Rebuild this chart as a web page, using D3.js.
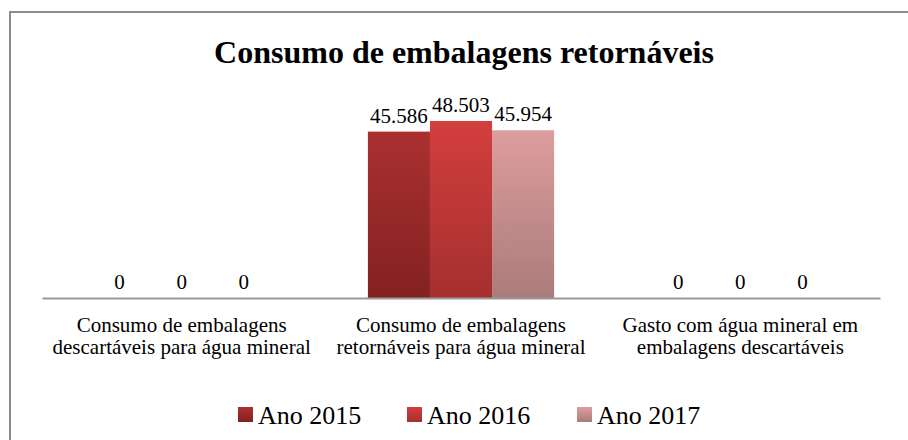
<!DOCTYPE html>
<html>
<head>
<meta charset="utf-8">
<script src="https://cdn.jsdelivr.net/npm/d3@7"></script>
<style>
body { margin: 0; background: #fff; }
svg { display: block; font-family: "Liberation Serif", "Times New Roman", serif; }
</style>
</head>
<body>
<svg id="chart" width="908" height="440"></svg>
<script>
var categories = [
	["Consumo de embalagens", "descartáveis para água mineral"],
	["Consumo de embalagens", "retornáveis para água mineral"],
	["Gasto com água mineral em", "embalagens descartáveis"]
];
var seriesNames = ["Ano 2015", "Ano 2016", "Ano 2017"];
var ano2015 = [0, 45.586, 0];
var ano2016 = [0, 48.503, 0];
var ano2017 = [0, 45.954, 0];
var valueLabels = [["0", "45.586", "0"], ["0", "48.503", "0"], ["0", "45.954", "0"]];

var series = [ano2015, ano2016, ano2017];
var grads = [["#aa3030", "#832121"], ["#d23f3d", "#a52f2f"], ["#dd9d9d", "#ab7b7b"]];

var svg = d3.select("#chart");
var defs = svg.append("defs");
grads.forEach(function (g, i) {
	var lg = defs.append("linearGradient").attr("id", "g" + i).attr("x1", 0).attr("y1", 0).attr("x2", 0).attr("y2", 1);
	lg.append("stop").attr("offset", "0%").attr("stop-color", g[0]);
	lg.append("stop").attr("offset", "100%").attr("stop-color", g[1]);
});

// frame
svg.append("rect").attr("x", 10).attr("y", 12).attr("width", 910).attr("height", 440)
	.attr("fill", "none").attr("stroke", "#8c8c8c").attr("stroke-width", 2);

svg.append("text").attr("x", 464).attr("y", 63).attr("text-anchor", "middle")
	.attr("font-size", 32).attr("font-weight", "bold").text("Consumo de embalagens retornáveis");

var x0 = d3.scaleBand().domain(d3.range(categories.length)).range([42, 880]);
var x1 = d3.scaleBand().domain(d3.range(series.length)).range([0, x0.bandwidth()]).paddingOuter(0.75);
var y = d3.scaleLinear().domain([0, 60]).range([298, 298 - 60 * 3.65]);

var groups = svg.append("g").selectAll("g").data(d3.range(categories.length)).join("g")
	.attr("transform", function (c) { return "translate(" + x0(c) + ",0)"; });

groups.selectAll("rect").data(function (c) { return series.map(function (s, i) { return {i: i, v: s[c]}; }); })
	.join("rect")
	.attr("x", function (d) { return x1(d.i); })
	.attr("y", function (d) { return y(d.v); })
	.attr("width", x1.bandwidth())
	.attr("height", function (d) { return y(0) - y(d.v); })
	.attr("fill", function (d) { return "url(#g" + d.i + ")"; });

groups.selectAll("text").data(function (c) { return series.map(function (s, i) { return {i: i, v: s[c], t: valueLabels[i][c]}; }); })
	.join("text")
	.attr("x", function (d) { return x1(d.i) + x1.bandwidth() / 2; })
	.attr("y", function (d) { return y(d.v) - 9; })
	.attr("text-anchor", "middle").attr("font-size", 21).attr("fill", "#000")
	.text(function (d) { return d.t; });

// axis line
var xAxis = svg.append("g").attr("transform", "translate(0," + y(0) + ")")
	.call(d3.axisBottom(x0).tickSize(0).tickFormat(""));
xAxis.select(".domain").attr("stroke", "#9a9a9a").attr("stroke-width", 2);

categories.forEach(function (lines, c) {
	var t = svg.append("text").attr("text-anchor", "middle").attr("font-size", 21)
		.attr("x", x0(c) + x0.bandwidth() / 2).attr("y", 332);
	lines.forEach(function (l, k) {
		t.append("tspan").attr("x", x0(c) + x0.bandwidth() / 2).attr("dy", k ? 22 : 0).text(l);
	});
});

// legend
var legendX = [238, 407, 577];
seriesNames.forEach(function (n, i) {
	svg.append("rect").attr("x", legendX[i]).attr("y", 407).attr("width", 15).attr("height", 15)
		.attr("fill", "url(#g" + i + ")");
	svg.append("text").attr("x", legendX[i] + 20).attr("y", 424).attr("font-size", 26).text(n);
});
</script>
</body>
</html>
